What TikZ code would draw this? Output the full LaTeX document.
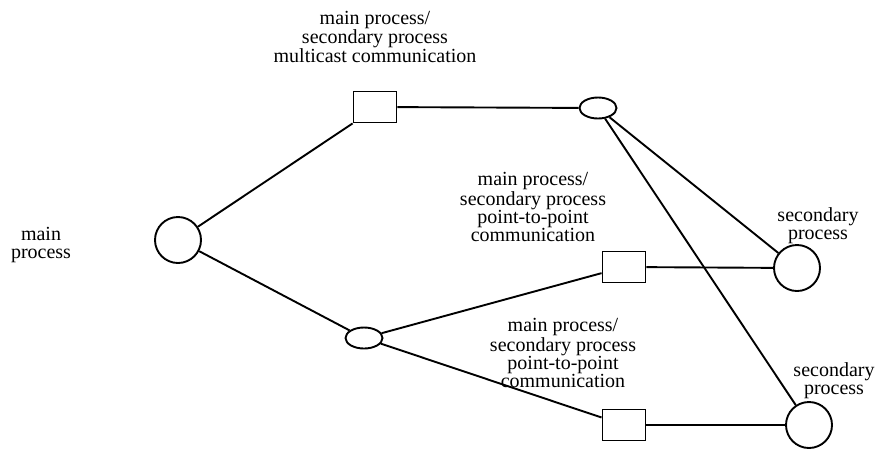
\documentclass[tikz,border=0pt]{standalone}
\usepackage{fontspec}
\setmainfont{Liberation Serif}
\usetikzlibrary{shapes.geometric}
\begin{document}
\begin{tikzpicture}[x=1pt,y=-1pt,
  proc/.style={circle,draw,line width=1.9pt,minimum size=46pt,inner sep=0pt},
  hub/.style={ellipse,draw,line width=1.9pt,minimum width=37pt,minimum height=21pt,inner sep=0pt},
  comm/.style={rectangle,draw,line width=1.9pt,minimum width=43pt,minimum height=31pt,inner sep=0pt},
  lbl/.style={align=center,font=\fontsize{20}{18}\selectfont,inner sep=0pt},
  conn/.style={line width=1.9pt}]
\useasboundingbox (0,0) rectangle (877,448);
% shapes
\node[proc] (main) at (178,240) {};
\node[comm] (mc) at (375,107) {};
\node[hub] (h1) at (598,108) {};
\node[hub] (h2) at (364,338) {};
\node[comm] (p1) at (624,267) {};
\node[comm] (p2) at (624,425) {};
\node[proc] (s1) at (797,268) {};
\node[proc] (s2) at (809,425) {};
% connectors
\draw[conn] (main) -- (mc.south west);
\draw[conn] (main) -- (h2);
\draw[conn] (mc) -- (h1);
\draw[conn] (h1) -- (s1);
\draw[conn] (h1) -- (s2);
\draw[conn] (h2) -- (p1);
\draw[conn] (h2) -- (p2);
\draw[conn] (p1) -- (s1);
\draw[conn] (p2) -- (s2);
% labels
\node[lbl] (lmain) at (41,245) {main\\process};
\node[lbl] (lmc) at (375,37) {main process/\\secondary process\\multicast communication};
\node[lbl] (lp1) at (533,207) {main process/\\secondary process\\point-to-point\\communication};
\node[lbl] (lp2) at (563,353) {main process/\\secondary process\\point-to-point\\communication};
\node[lbl] (ls1) at (818,226) {secondary\\process};
\node[lbl] (ls2) at (834,381) {secondary\\process};
\end{tikzpicture}
\end{document}
